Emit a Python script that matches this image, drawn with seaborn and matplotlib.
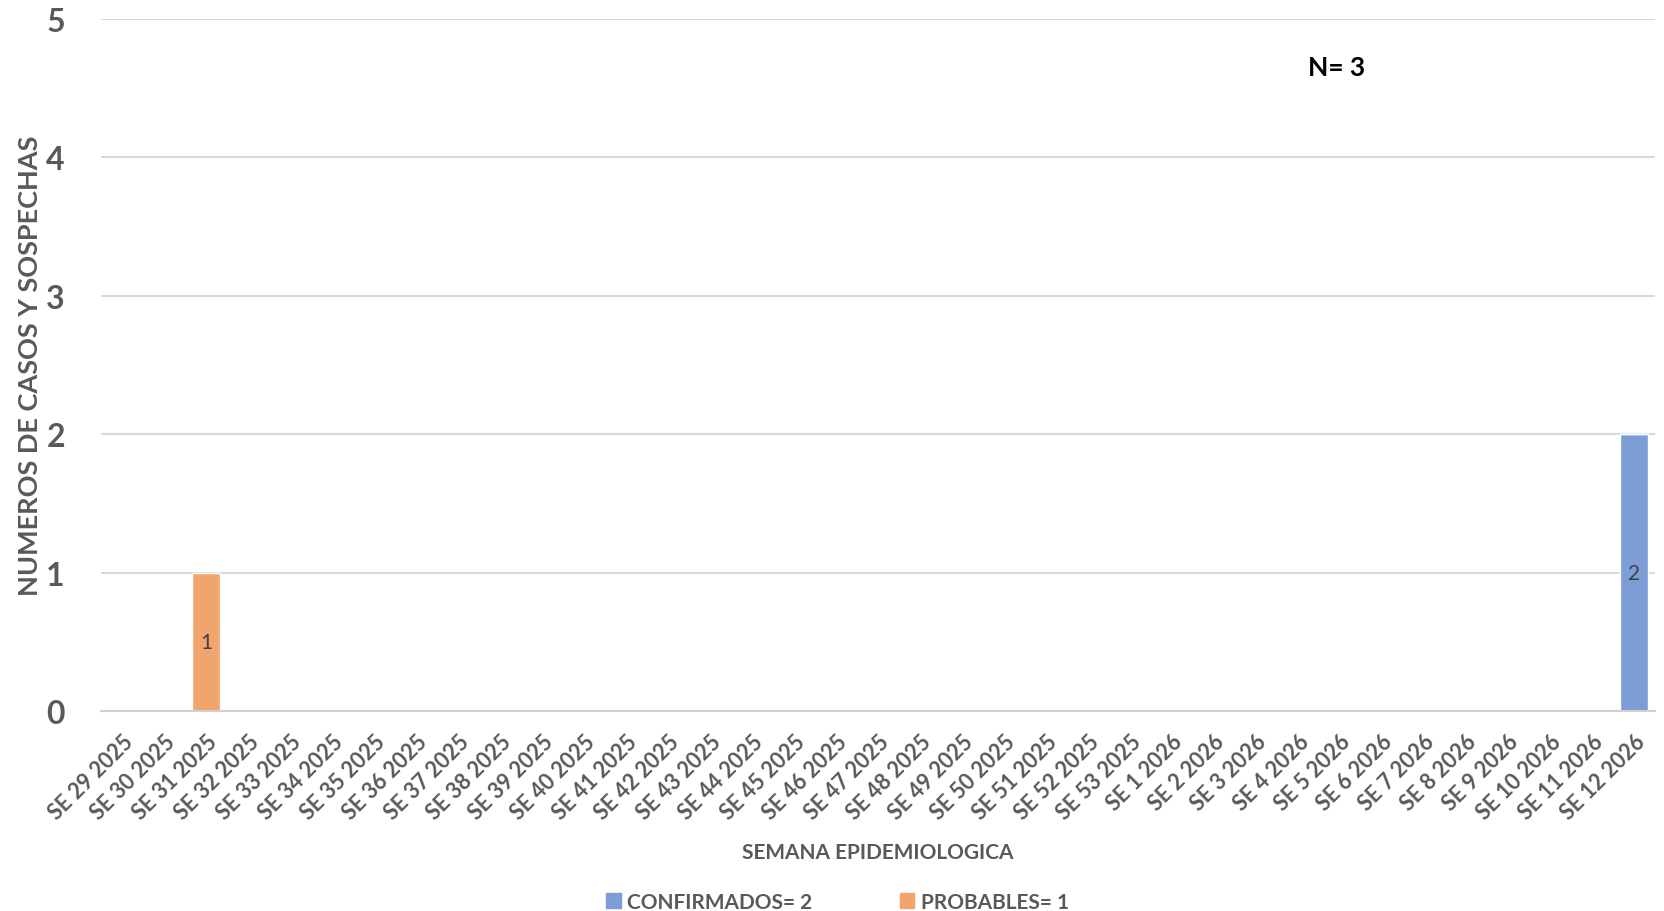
import matplotlib
matplotlib.use("Agg")
import matplotlib.pyplot as plt
from matplotlib.patches import Patch
import pandas as pd
import seaborn as sns

weeks = [f"SE {w} 2025" for w in range(29, 54)] + [f"SE {w} 2026" for w in range(1, 13)]
confirmados = [0] * 36 + [2]
probables = [0, 0, 1] + [0] * 34

blue = "#7C9DD5"
orange = "#F0A46E"
gray = "#595959"

df = pd.DataFrame({"semana": weeks, "CONFIRMADOS": confirmados, "PROBABLES": probables})

sns.set_style("white")
plt.rcParams["font.family"] = ["Lato", "DejaVu Sans"]

fig = plt.figure(figsize=(16.65, 9.12), dpi=100)
ax = fig.add_axes([101 / 1665, 1 - 712 / 912, 1554 / 1665, 692 / 912])

sns.barplot(data=df, x="semana", y="CONFIRMADOS", color=blue, width=0.69, ax=ax,
            order=weeks, saturation=1)
sns.barplot(data=df, x="semana", y="PROBABLES", color=orange, width=0.69, ax=ax,
            order=weeks, saturation=1, bottom=df["CONFIRMADOS"])

# etiquetas en el centro de cada barra
for i, (c, p) in enumerate(zip(confirmados, probables)):
    if c > 0:
        ax.text(i, c / 2, str(c), ha="center", va="center", fontsize=15, color="#404040")
    if p > 0:
        ax.text(i, c + p / 2, str(p), ha="center", va="center", fontsize=15, color="#404040")

ax.set_ylim(0, 5)
ax.set_xlim(-0.5, len(weeks) - 0.5)
ax.set_yticks(range(6))
ax.yaxis.grid(True, color="#D9D9D9", linewidth=1.5)
ax.set_axisbelow(True)
for s in ["top", "right", "left"]:
    ax.spines[s].set_visible(False)
ax.spines["bottom"].set_color("#D0D0D0")
ax.spines["bottom"].set_linewidth(1.5)
ax.tick_params(axis="both", length=0)
ax.tick_params(axis="y", pad=26)
ax.tick_params(axis="x", pad=14)

for lbl in ax.get_yticklabels():
    lbl.set_fontsize(23)
    lbl.set_fontweight("bold")
    lbl.set_color(gray)
ax.set_xticks(range(len(weeks)))
ax.set_xticklabels(weeks, rotation=45, ha="right", rotation_mode="anchor",
                   fontsize=15.5, fontweight="bold", color=gray)

ax.set_xlabel("SEMANA EPIDEMIOLOGICA", fontsize=15, fontweight="bold", color=gray, labelpad=14)
ax.set_ylabel("NUMEROS DE CASOS Y SOSPECHAS", fontsize=19.5, fontweight="bold", color=gray)
ax.yaxis.set_label_coords(-0.038, 0.5)

ax.text(0.795, 0.93, "N= 3", transform=ax.transAxes, fontsize=19, fontweight="bold",
        color="black", ha="center", va="center")

handles = [Patch(color=blue, label="CONFIRMADOS= 2"), Patch(color=orange, label="PROBABLES= 1")]
leg = fig.legend(handles=handles, loc="center", bbox_to_anchor=(0.503, 1 - 903 / 912), ncol=2,
                 frameon=False, handlelength=0.7, handleheight=0.7, handletextpad=0.3,
                 columnspacing=4.2, prop={"weight": "bold", "size": 15})
for t in leg.get_texts():
    t.set_color(gray)

fig.savefig("out.png", dpi=100)
